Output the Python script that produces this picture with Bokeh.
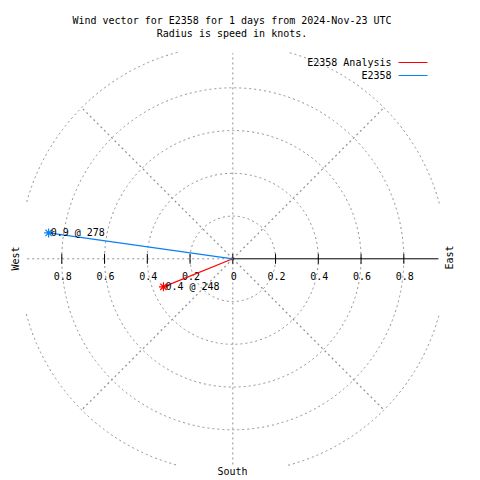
import math
from bokeh.plotting import figure
from bokeh.models import Range1d
from bokeh.core.properties import value
from bokeh.embed import file_html
from bokeh.resources import INLINE

# ---- data ----
series = ["E2358 Analysis", "E2358"]
speed_kt = [0.35, 0.87]
direction_deg = [248, 278]
vector_labels = ["0.4 @ 248", "0.9 @ 278"]
series_colors = ["#ff0000", "#0a80f5"]

ring_radii = [0.2, 0.4, 0.6, 0.8]
outer_ring = 1.0
axis_extent = 0.962
tick_values = [0.2, 0.4, 0.6, 0.8]
tick_labels = ["0.2", "0.4", "0.6", "0.8"]
title_lines = ["Wind vector for E2358 for 1 days from 2024-Nov-23 UTC",
               "Radius is speed in knots."]

# ---- layout ----
W = H = 480
S = 213.75            # px per knot
CX, CY = 232.3, 258.3  # centre in canvas px (from top-left)
FONT = value("DejaVu Sans Mono")
GRID = "#909090"


def px(xi, yi):
    """canvas pixel -> data coords"""
    return ((xi - CX) / S, (CY - yi) / S)


p = figure(width=W, height=H, output_backend="svg", toolbar_location=None,
           x_range=Range1d(-CX / S, (W - CX) / S),
           y_range=Range1d(-(H - CY) / S, CY / S),
           min_border=0, background_fill_color="white")
p.axis.visible = False
p.grid.visible = False
p.outline_line_color = None

# rings
for r in ring_radii:
    p.arc(x=0, y=0, radius=r, start_angle=0, end_angle=2 * math.pi,
          line_color=GRID, line_dash="2 3", line_width=1)
for k in range(4):
    p.arc(x=0, y=0, radius=outer_ring,
          start_angle=math.radians(15 + 90 * k), end_angle=math.radians(75 + 90 * k),
          line_color=GRID, line_dash="2 3", line_width=1)

# radial grid lines
p.segment(x0=[0, -axis_extent], y0=[-axis_extent, 0], x1=[0, 0], y1=[axis_extent, 0],
          line_color=GRID, line_dash="2 3", line_width=1)
diag = [math.radians(a) for a in (45, 135, 225, 315)]
p.segment(x0=[0] * 4, y0=[0] * 4,
          x1=[outer_ring * math.cos(a) for a in diag],
          y1=[outer_ring * math.sin(a) for a in diag],
          line_color=GRID, line_dash="2 3", line_width=1.2)

# speed axis (east side solid)
p.segment(x0=[0], y0=[0], x1=[axis_extent], y1=[0], line_color="black", line_width=1)
tick_x = [0] + tick_values + [-v for v in tick_values]
tl = 5 / S
p.segment(x0=tick_x, y0=[-tl] * len(tick_x), x1=tick_x, y1=[tl] * len(tick_x),
          line_color="black", line_width=1)
lab_y = -17 / S
p.text(x=tick_x, y=[lab_y] * len(tick_x),
       text=["0"] + tick_labels + tick_labels, text_font=FONT, text_font_size="10px",
       text_align="center", text_baseline="middle", text_color="black", x_offset=1)

# vectors
ex = [s * math.sin(math.radians(d)) for s, d in zip(speed_kt, direction_deg)]
ey = [s * math.cos(math.radians(d)) for s, d in zip(speed_kt, direction_deg)]
for i in range(len(series)):
    p.line(x=[0, ex[i]], y=[0, ey[i]], line_color=series_colors[i], line_width=1.2)
    p.scatter(x=[ex[i]], y=[ey[i]], marker="asterisk", size=9,
              line_color=series_colors[i], line_width=1.2)
p.text(x=ex, y=ey, text=vector_labels, text_font=FONT, text_font_size="10px",
       text_align="left", text_baseline="middle", text_color="black", x_offset=2)

# title
tx, ty1 = px(231.5, 20)
_, ty2 = px(231.5, 33)
p.text(x=[tx, tx], y=[ty1, ty2], text=title_lines, text_font=FONT, text_font_size="10px",
       text_align="center", text_baseline="middle", text_color="black")

# legend
lx, ly1 = px(391, 62)
_, ly2 = px(391, 75)
p.text(x=[lx, lx], y=[ly1, ly2], text=series, text_font=FONT, text_font_size="10px",
       text_align="right", text_baseline="middle", text_color="black")
l0, _ = px(398, 62)
l1, _ = px(427, 62)
p.segment(x0=[l0, l0], y0=[ly1, ly2], x1=[l1, l1], y1=[ly1, ly2],
          line_color=series_colors, line_width=1.2)

# compass labels
wx, wy = px(15, 258)
exx, eyy = px(449, 257)
sx, sy = px(232, 471)
p.text(x=[wx, exx], y=[wy, eyy], text=["West", "East"], angle=math.pi / 2,
       text_font=FONT, text_font_size="10px", text_align="center",
       text_baseline="middle", text_color="black")
p.text(x=[sx], y=[sy], text=["South"], text_font=FONT, text_font_size="10px",
       text_align="center", text_baseline="middle", text_color="black")

open("out.html", "w").write(file_html(p, INLINE))
